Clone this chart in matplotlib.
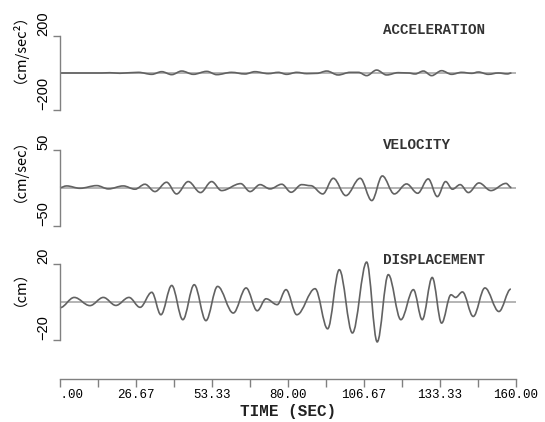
import matplotlib
matplotlib.use('Agg')
import matplotlib.pyplot as plt
from matplotlib.path import Path
from matplotlib.patches import PathPatch

# ---------------- data ----------------
acc_t = [0, 14.6, 17.5, 21.0, 24.5, 27.5, 32.2, 35.7, 39.2, 42.7, 46.8, 51.5, 55.0, 60.2, 64.9,
         68.4, 73.1, 76.6, 79.5, 83.1, 86.6, 90.1, 93.6, 97.6, 101.8, 104.7, 107.6, 111.1, 114.6,
         118.7, 122.2, 124.6, 127.5, 130.4, 133.9, 137.4, 140.9, 144.5, 146.8, 150.3, 153.8, 157.0, 158.4]
acc_v = [0, 0, 1.5, -1.5, 1.5, 3.5, -7.1, 7.1, -8.8, 10.6, -7.1, 8.8, -8.8, 3.5, -5.3,
         7.1, -3.5, 3.5, -7.1, 3.5, -3.5, -1.8, 10.6, -10.6, 3.5, 3.5, -14.2, 15.9, -10.6,
         1.8, 0, -5.3, 10.6, -14.2, 12.4, -7.1, 3.5, -1.8, 5.3, -7.1, 0, -5.0, 0]

vel_t = [0, 2.3, 7.0, 12.9, 17.0, 22.2, 26.3, 29.8, 33.3, 37.4, 40.9, 45.0, 49.3, 53.2, 56.7,
         63.4, 66.7, 70.2, 73.7, 77.8, 81.1, 84.8, 88.0, 92.2, 95.9, 100.3, 105.3, 109.4, 113.1,
         117.3, 121.6, 125.5, 129.2, 132.4, 135.3, 137.7, 140.4, 143.3, 147.0, 151.2, 156.5, 158.4]
vel_v = [0, 2.2, -0.9, 2.6, -1.7, 2.2, -2.1, 4.4, -5.2, 7.0, -8.3, 7.9, -6.5, 7.9, -3.9,
         5.2, -5.2, 3.9, -1.7, 4.4, -6.1, 3.9, 2.5, -8.3, 12.2, -10.5, 12.2, -17.0, 15.3,
         -8.3, 4.8, -7.4, 11.4, -11.8, 7.9, -2.1, 3.9, -6.5, 6.1, -3.9, 5.5, 0]

disp_t = [0, 5.0, 10.5, 15.2, 19.6, 24.2, 28.1, 32.2, 35.4, 39.2, 43.1, 47.1, 51.2, 55.3, 60.8,
          65.3, 69.2, 72.3, 76.2, 79.3, 83.1, 89.5, 93.9, 98.0, 102.6, 107.6, 111.3, 115.2, 119.6,
          124.0, 127.1, 130.6, 133.9, 137.2, 138.8, 141.2, 145.0, 149.1, 154.0, 158.2]
disp_v = [-3.0, 2.4, -1.9, 2.4, -1.8, 2.4, -2.8, 5.1, -6.7, 8.7, -9.3, 9.1, -9.8, 8.2, -5.8,
          7.4, -4.6, 1.7, -1.4, 6.5, -6.7, 7.0, -14.1, 17.0, -16.3, 21.0, -21.0, 14.4, -9.3,
          6.5, -9.3, 12.9, -11.1, 3.8, 2.4, 5.3, -7.6, 7.4, -5.0, 6.8]

titles = ['ACCELERATION', 'VELOCITY', 'DISPLACEMENT']
units = ['（cm/sec²）', '（cm/sec）', '（cm）']
limits = [200, 50, 20]
x_ticks = [0, 26.67, 53.33, 80.0, 106.67, 133.33, 160.0]
x_minor = [13.33, 40.0, 66.67, 93.33, 120.0, 146.67]
x_tick_labels = ['   .00', '26.67', '53.33', '80.00', '106.67', '133.33', '160.00']
x_label = 'TIME (SEC)'

# ---------------- figure ----------------
W, H = 545, 422
fig = plt.figure(figsize=(W / 100, H / 100), dpi=100)
fig.patch.set_facecolor('white')

SPINE = '#808080'
LINE = '#626262'
ZERO = '#b4b4b4'
MONO = 'Liberation Mono'
SANS = 'Liberation Sans'


def pix_axes(x0, y_top, x1, y_bot):
    return fig.add_axes([x0 / W, 1 - y_bot / H, (x1 - x0) / W, (y_bot - y_top) / H])


def smooth_path(t, v, k=0.36):
    verts = [(t[0], v[0])]
    codes = [Path.MOVETO]
    for i in range(1, len(t)):
        dt = t[i] - t[i - 1]
        verts += [(t[i - 1] + k * dt, v[i - 1]), (t[i] - k * dt, v[i]), (t[i], v[i])]
        codes += [Path.CURVE4] * 3
    return Path(verts, codes)


panel_px = [(36, 110), (149.5, 225.7), (264, 340)]
series = [(acc_t, acc_v), (vel_t, vel_v), (disp_t, disp_v)]
title_y = [30, 145, 260]
unit_y = [41, 163, 281]

X0, X1 = 60, 516
axes = []
for i in range(3):
    ytop, ybot = panel_px[i]
    ax = pix_axes(X0, ytop, X1, ybot)
    lim = limits[i]
    ax.set_xlim(0, 160)
    ax.set_ylim(-lim, lim)
    ax.patch.set_visible(False)
    for s in ['top', 'right', 'bottom']:
        ax.spines[s].set_visible(False)
    ax.spines['left'].set_color(SPINE)
    ax.spines['left'].set_linewidth(1.0)
    ax.set_xticks([])
    ax.set_yticks([-lim, lim])
    ax.set_yticklabels([f'\u2212{lim}', f'{lim}'], rotation=90, va='bottom',
                       family=SANS, fontsize=10.5)
    ax.tick_params(axis='y', direction='out', length=5, width=1.0, color=SPINE, pad=2)
    ax.axhline(0, color=ZERO, lw=1.4, zorder=1)
    t, v = series[i]
    ax.add_patch(PathPatch(smooth_path(t, v), facecolor='none', edgecolor=LINE,
                           lw=1.2, clip_on=False, zorder=2))
    fig.text(383 / W, 1 - title_y[i] / H, titles[i], family=MONO, fontweight='bold',
             fontsize=10.3, ha='left', va='center', color='#333333')
    fig.text(12 / W, 1 - unit_y[i] / H, units[i], family=['Noto Sans CJK JP', 'DejaVu Sans'],
             fontsize=10.5, rotation=90, ha='center', va='center')
    axes.append(ax)

# time axis on the bottom panel
ax = axes[2]
ax.spines['bottom'].set_visible(True)
ax.spines['bottom'].set_position(('outward', 28))
ax.spines['bottom'].set_color(SPINE)
ax.spines['bottom'].set_linewidth(1.0)
ax.set_xticks(x_ticks)
ax.set_xticks(x_minor, minor=True)
ax.set_xticklabels(x_tick_labels, family=MONO, fontsize=9)
ax.tick_params(axis='x', which='both', direction='out', length=5.5, width=1.0,
               color=SPINE, pad=2)
ax.set_xlabel(x_label, family=MONO, fontweight='bold', fontsize=11.5, labelpad=2,
              color='#222222')

fig.savefig('out.png', dpi=100, facecolor='white')
